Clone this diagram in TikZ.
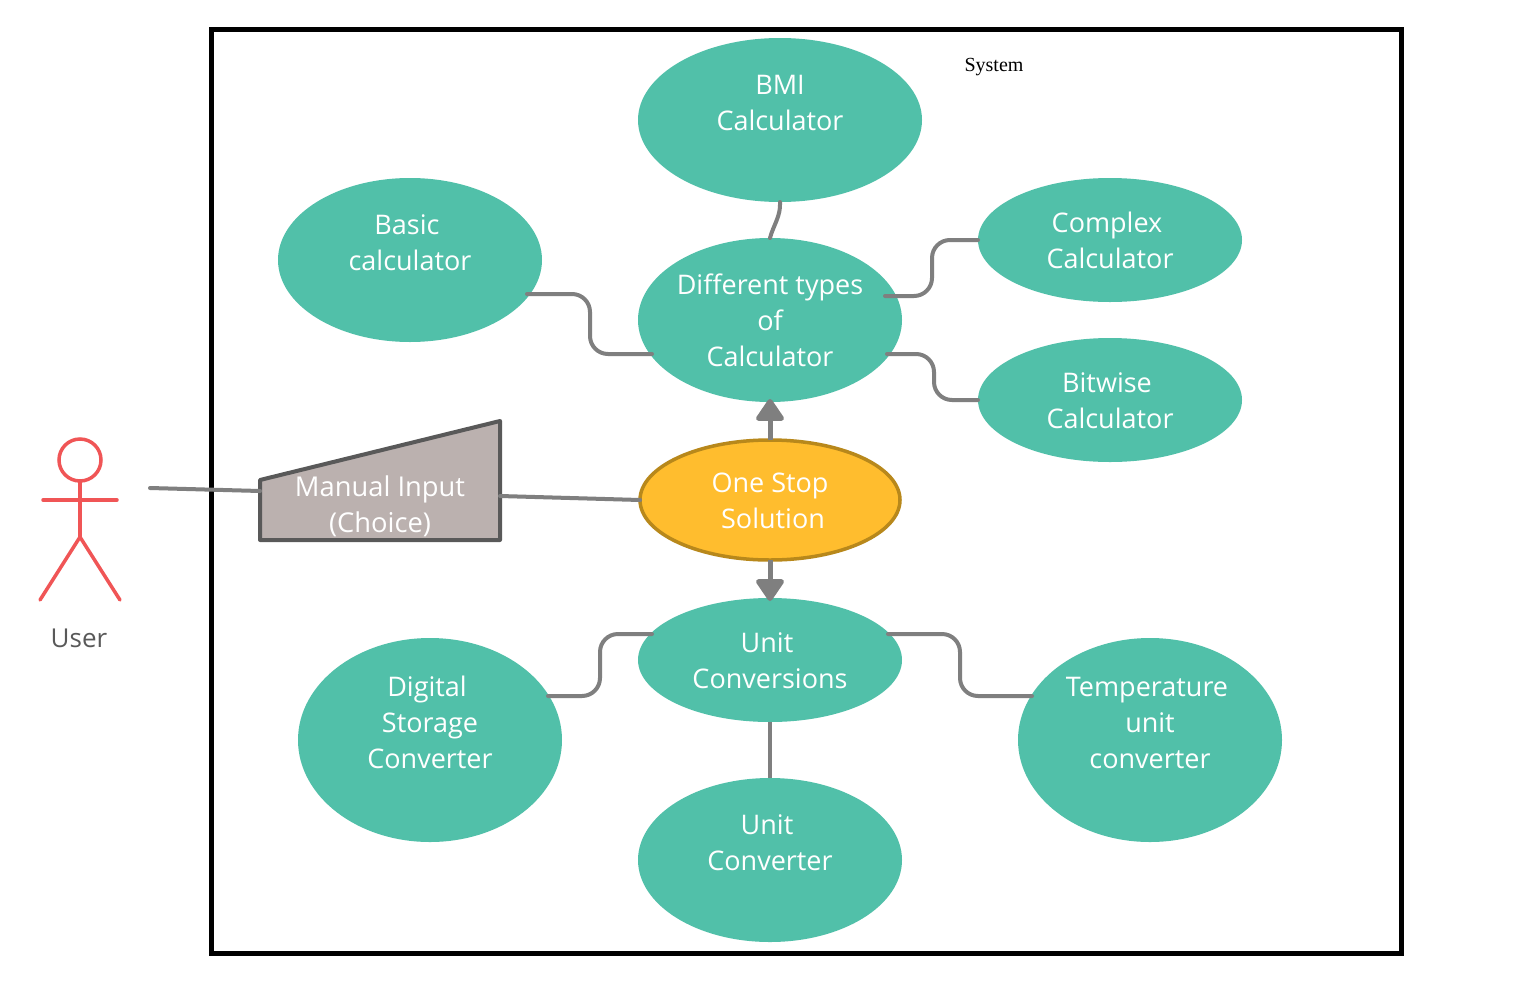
\documentclass[tikz,border=0pt]{standalone}
\usepackage{fontspec}
\setmainfont{Open Sans}
\newfontfamily\serifsys{Liberation Serif}
\usetikzlibrary{shapes.geometric,arrows.meta}
\definecolor{teal1}{HTML}{51C0A9}
\definecolor{gold1}{HTML}{FFBD2E}
\definecolor{gold2}{HTML}{B8881B}
\definecolor{conn1}{HTML}{7F7F7F}
\definecolor{stone1}{HTML}{BBB1AF}
\definecolor{stone2}{HTML}{595959}
\definecolor{red1}{HTML}{F05556}
\newcommand{\tr}{\kern6pt}
\newcommand{\st}{\rule{0pt}{31.2pt}}
\tikzset{
  bubble/.style={ellipse,fill=teal1,inner sep=-20pt,outer sep=0pt,text=white,align=center,
    font=\fontsize{27}{36}\selectfont},
  conn/.style={draw=conn1,line width=4pt,line cap=round},
  bendconn/.style={conn,rounded corners=18pt},
  arrowconn/.style={draw=conn1,line width=5pt,-{Triangle[length=24pt,width=31pt,round]}},
  actorline/.style={draw=red1,line width=3.5pt,line cap=round},
}
\begin{document}
\begin{tikzpicture}[x=1pt,y=-1pt]
\useasboundingbox (0,0) rectangle (1520,980);
\fill[white] (0,0) rectangle (1520,980);
\node[draw=black,line width=5pt,minimum width=1190pt,minimum height=924pt,inner sep=0pt] (system) at (806.5,491.5) {};
\node[font=\serifsys\fontsize{20}{24}\selectfont,inner sep=0pt] (systemlabel) at (994,67) {System};

\node[bubble,minimum width=284pt,minimum height=164pt] (bmi) at (780,120) {\st BMI\\Calculator\\\strut};
\node[bubble,minimum width=264pt,minimum height=164pt] (basic) at (410,260) {\st Basic\tr\\calculator\\\strut};
\node[bubble,minimum width=264pt,minimum height=164pt] (diff) at (770,320) {\st Different types\\of\\Calculator\strut};
\node[bubble,minimum width=264pt,minimum height=124pt] (complex) at (1110,240) {\st Complex\tr\\Calculator\strut};
\node[bubble,minimum width=264pt,minimum height=124pt] (bitwise) at (1110,400) {\st Bitwise\tr\\Calculator\strut};
\node[bubble,minimum width=264pt,minimum height=124pt] (unitconv) at (770,660) {\st Unit\tr\\Conversions\strut};
\node[bubble,minimum width=264pt,minimum height=204pt] (digital) at (430,740) {\st Digital\tr\\Storage\\Converter\\\strut};
\node[bubble,minimum width=264pt,minimum height=204pt] (temp) at (1150,740) {\st Temperature\tr\\unit\\converter\\\strut};
\node[bubble,minimum width=264pt,minimum height=164pt] (converter) at (770,860) {\st Unit\tr\\Converter\\\strut};
\node[bubble,draw=gold2,fill=gold1,line width=3.5pt,minimum width=260pt,minimum height=120pt] (onestop) at (770,500) {\st One Stop\\\kern6pt Solution\strut};

% manual input block
\coordinate (manualA) at (260,480);
\coordinate (manualB) at (500,421);
\coordinate (manualC) at (500,540);
\coordinate (manualD) at (260,540);
\filldraw[fill=stone1,draw=stone2,line width=4pt,line join=round] (manualA) -- (manualB) -- (manualC) -- (manualD) -- cycle;
\node[text=white,align=center,inner sep=0pt,font=\fontsize{27.3}{35.5}\selectfont] (manual) at (380,507.5) {\strut Manual Input\\(Choice)\strut};

% actor
\draw[actorline] (80,460) circle (21pt);
\draw[actorline] (80,481) -- (80,537);
\draw[actorline] (43,500) -- (117,500);
\draw[actorline] (40,600) -- (80,537) -- (120,600);
\node[text=stone2,inner sep=0pt,font=\fontsize{26}{30}\selectfont] (user) at (79,638) {User};
\coordinate (userend) at (150,488);

% connectors
\draw[conn] (userend) -- (manualA |- 0,491);
\draw[conn] (500,496) -- (onestop.west);
\draw[conn] (bmi.south) .. controls (781,216) and (773,226) .. (diff.north);
\draw[bendconn] ([shift={(117,34)}]basic.center) -- (590,294) -- (590,354) -- ([shift={(-118,34)}]diff.center);
\draw[bendconn] ([shift={(115,-24)}]diff.center) -- (932,296) -- (932,240) -- (complex.west);
\draw[bendconn] ([shift={(117,34)}]diff.center) -- (934,354) -- (934,400) -- (bitwise.west);
\draw[bendconn] ([shift={(118,-44)}]digital.center) -- (600,696) -- (600,634) -- ([shift={(-118,-26)}]unitconv.center);
\draw[bendconn] ([shift={(118,-26)}]unitconv.center) -- (960,634) -- (960,696) -- ([shift={(-118,-44)}]temp.center);
\draw[conn,line cap=butt] (unitconv.south) -- (converter.north);
\draw[arrowconn,shorten >=-3pt] (onestop.north) -- (diff.south);
\draw[arrowconn,shorten >=-3pt] (onestop.south) -- (unitconv.north);
\end{tikzpicture}
\end{document}
